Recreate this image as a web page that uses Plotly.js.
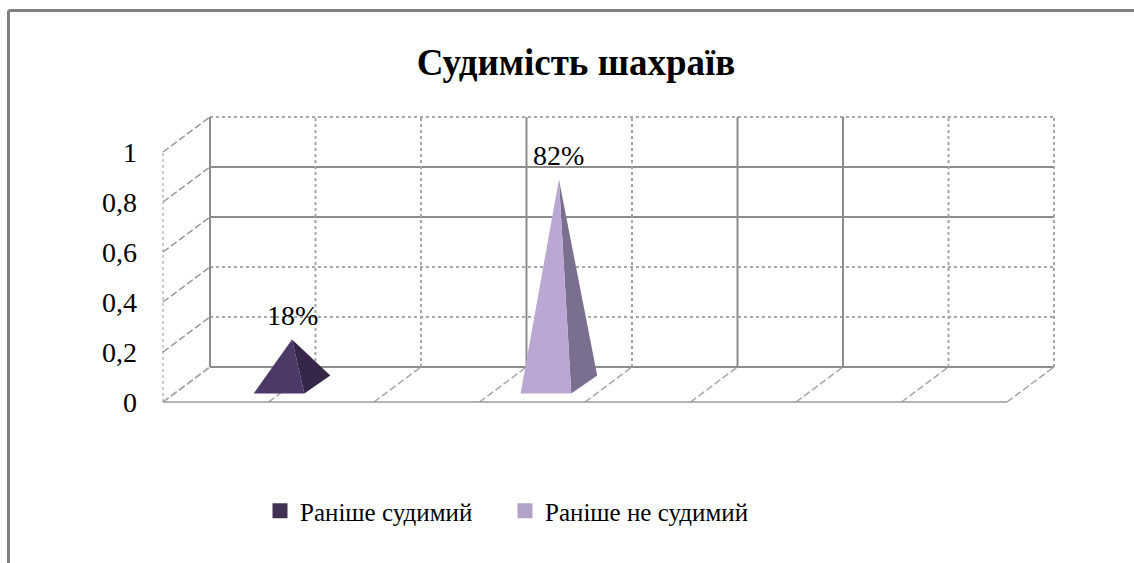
<!DOCTYPE html>
<html>
<head>
<meta charset="utf-8">
<script src="https://cdn.plot.ly/plotly-3.0.1.min.js"></script>
<style>
html,body{margin:0;padding:0;background:#fff;}
#chart{width:1134px;height:563px;}
</style>
</head>
<body>
<div id="chart"></div>
<script>
// ---- data ----
const chartTitle = 'Судимість шахраїв';
const seriesNames = ['Раніше судимий', 'Раніше не судимий'];
const seriesValues = [0.18, 0.82];
const tickVals = [0, 0.2, 0.4, 0.6, 0.8, 1];
const tickText = ['0', '0,2', '0,4', '0,6', '0,8', '1'];

// ---- layout / style constants ----
const slotPos = [1, 3.53];          // position of each pyramid along the floor (grid units)
const nCells = 8;                   // number of wall grid cells
const DU = 0.4455, DV = 0.14;       // oblique depth offset (x units, y units)
const halfW = 0.24;                 // pyramid half width
const pDU = 0.123, pDV = 0.036;     // half of pyramid base depth offset
const frontCols = ['#4d3968', '#bba7d4'];
const sideCols  = ['#36264a', '#7b6f8f'];
const legendCols = ['#403152', '#b3a2c7'];
const serif = '"Liberation Serif", "Times New Roman", Times, serif';
const gridCol = '#8c8c8c', dotCol = '#a6a6a6';

const traces = [];
const annotations = [];
seriesValues.forEach((v, i) => {
  const uc = slotPos[i] + DU / 2, vc = DV / 2;
  const FL = [uc - halfW - pDU, vc - pDV];
  const FR = [uc + halfW - pDU, vc - pDV];
  const BR = [uc + halfW + pDU, vc + pDV];
  const AP = [uc, vc + v];
  // right (shaded) face
  traces.push({type: 'scatter', mode: 'none', fill: 'toself', fillcolor: sideCols[i],
    x: [FR[0], BR[0], AP[0], FR[0]], y: [FR[1], BR[1], AP[1], FR[1]],
    showlegend: false, hoverinfo: 'skip', legendgroup: 'g' + i});
  // front face
  traces.push({type: 'scatter', mode: 'none', fill: 'toself', fillcolor: frontCols[i],
    x: [FL[0], FR[0], AP[0], FL[0]], y: [FL[1], FR[1], AP[1], FL[1]],
    name: seriesNames[i], showlegend: false, legendgroup: 'g' + i,
    hovertemplate: seriesNames[i] + ': ' + Math.round(v * 100) + '%<extra></extra>'});
  annotations.push({x: AP[0], y: AP[1], xref: 'x', yref: 'y', text: Math.round(v * 100) + '%',
    showarrow: false, yanchor: 'bottom', yshift: 7,
    font: {family: serif, size: 28, color: '#000'}});
});
// legend entries
seriesNames.forEach((n, i) => {
  traces.push({type: 'scatter', mode: 'markers', x: [null], y: [null], name: n,
    legendgroup: 'g' + i,
    marker: {symbol: 'square', size: 15, color: legendCols[i], line: {width: 0}}});
});

const shapes = [];
function ln(x0, y0, x1, y1, color, width, dash) {
  shapes.push({type: 'line', xref: 'x', yref: 'y', x0, y0, x1, y1, layer: 'below',
    line: {color, width, dash}});
}
const hDash = ['solid', 'dot', 'dot', 'solid', 'solid', 'dot'];
tickVals.forEach((t, i) => {
  // back wall horizontals
  ln(DU, t + DV, DU + nCells, t + DV, hDash[i] === 'solid' ? gridCol : dotCol, 2, hDash[i]);
  // left wall diagonals
  ln(0, t, DU, t + DV, '#9a9a9a', 1.5, '7px,3px');
});
const vDash = ['solid', 'dot', 'dot', 'solid', 'dot', 'solid', 'solid', 'dot', 'dot'];
for (let k = 0; k <= nCells; k++) {
  ln(DU + k, DV, DU + k, 1 + DV, vDash[k] === 'solid' ? gridCol : dotCol, 2, vDash[k]);
  ln(k, 0, k + DU, DV, '#a8a8a8', 1.5, '7px,3px');
}
ln(0, 0, 0, 1, '#9a9a9a', 1, 'dot');
ln(0, 0, nCells, 0, '#9a9a9a', 1.5, 'solid');

// outer frame (left + top)
const L = 138, PW = 996, H = 563;
const fx = (8.5 - L) / PW, fy = 1 - 10.5 / H;
shapes.push({type: 'line', xref: 'paper', yref: 'paper', x0: fx, y0: fy, x1: 1.01, y1: fy, line: {color: '#808080', width: 3}});
shapes.push({type: 'line', xref: 'paper', yref: 'paper', x0: fx, y0: fy, x1: fx, y1: -0.02, line: {color: '#808080', width: 3}});

const layout = {
  width: 1134, height: 563,
  margin: {l: L, r: 0, t: 0, b: 0},
  paper_bgcolor: '#fff', plot_bgcolor: 'rgba(0,0,0,0)',
  font: {family: serif, color: '#000'},
  title: {text: '<b>' + chartTitle + '</b>', x: 576 / 1134, xanchor: 'center',
    y: 1 - 62 / H, yanchor: 'middle', yref: 'container',
    font: {family: serif, size: 37, color: '#000'}},
  xaxis: {range: [(L - 163) / 105.5, (1134 - 163) / 105.5], visible: false, fixedrange: true},
  yaxis: {range: [(402 - 563) / 250, 402 / 250], tickvals: tickVals, ticktext: tickText,
    showgrid: false, zeroline: false, showline: false, ticks: '',
    tickfont: {family: serif, size: 28, color: '#000'}, fixedrange: true},
  showlegend: true,
  legend: {orientation: 'h', x: (260 - L) / PW, xanchor: 'left', y: 1 - 511 / H, yanchor: 'middle',
    font: {family: serif, size: 25, color: '#000'}, itemwidth: 30, entrywidth: 200,
    bgcolor: 'rgba(0,0,0,0)'},
  shapes, annotations
};
Plotly.newPlot('chart', traces, layout, {displayModeBar: false});
</script>
</body>
</html>
